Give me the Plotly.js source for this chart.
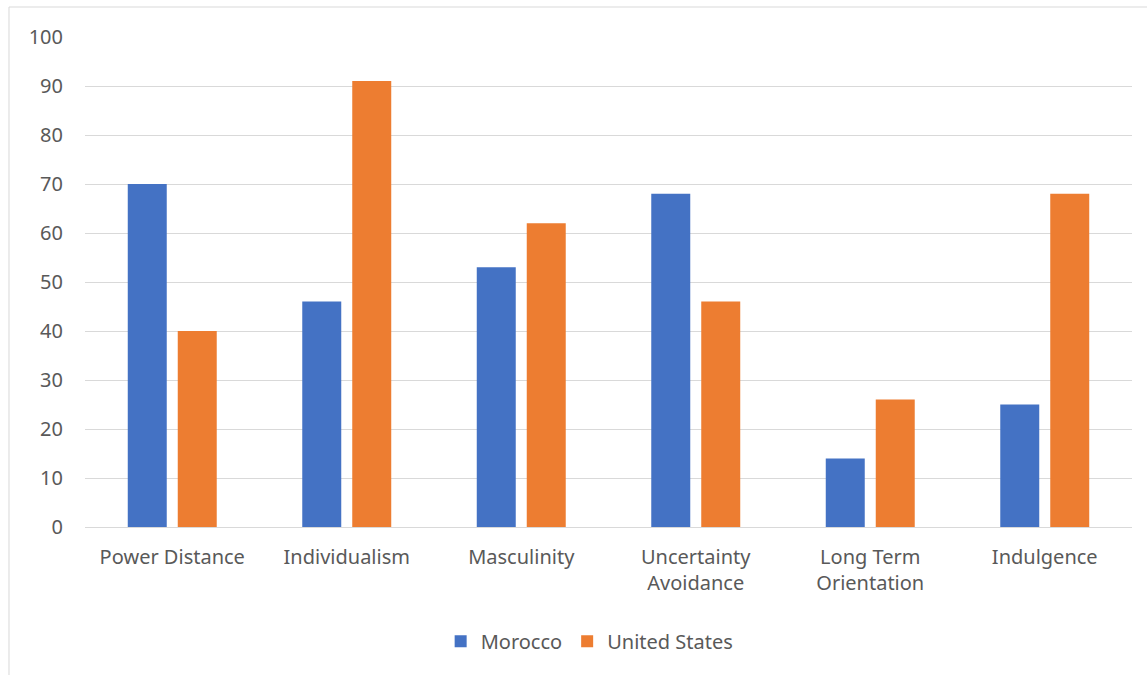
<!DOCTYPE html>
<html>
<head>
<meta charset="utf-8">
<script src="https://cdn.plot.ly/plotly-3.0.1.min.js"></script>
<style>
html,body{margin:0;padding:0;background:#fff;}
#chart{width:1147px;height:675px;}
</style>
</head>
<body>
<div id="chart"></div>
<script>
var categories = ["Power Distance", "Individualism", "Masculinity", "Uncertainty<br>Avoidance", "Long Term<br>Orientation", "Indulgence"];
var morocco = [70, 46, 53, 68, 14, 25];
var unitedStates = [40, 91, 62, 46, 26, 68];
var yTicks = [0, 10, 20, 30, 40, 50, 60, 70, 80, 90, 100];

var font = {family: "Noto Sans, Liberation Sans, sans-serif", size: 20, color: "#595959"};

var traces = [
  {type: "bar", name: "Morocco", x: categories, y: morocco, marker: {color: "#4472C4"}, hoverinfo: "x+y"},
  {type: "bar", name: "United States", x: categories, y: unitedStates, marker: {color: "#ED7D31"}, hoverinfo: "x+y"}
];

var layout = {
  width: 1147, height: 675,
  margin: {l: 85, r: 15, t: 37, b: 148},
  paper_bgcolor: "#fff", plot_bgcolor: "#fff",
  font: font,
  barmode: "group",
  bargap: 0.427,
  bargroupgap: 0.22,
  showlegend: true,
  legend: {orientation: "h", x: 0.482, xanchor: "center", y: -0.233, yanchor: "middle", font: font, itemclick: false, itemwidth: 30},
  xaxis: {type: "category", showgrid: false, showline: false, zeroline: false, ticks: "", ticklabelstandoff: 16, tickfont: font},
  yaxis: {range: [0, 100], tickvals: yTicks, ticktext: yTicks.map(String), showgrid: true, gridcolor: "#d9d9d9", gridwidth: 1,
          zeroline: true, zerolinecolor: "#d9d9d9", zerolinewidth: 1, showline: false, ticks: "", ticklabelstandoff: 21, tickfont: font, fixedrange: true},
  shapes: [
    {type: "rect", xref: "paper", yref: "paper", x0: -0.0726, x1: 1.3, y0: -0.6, y1: 1.0612, line: {color: "#d9d9d9", width: 1}, fillcolor: "rgba(0,0,0,0)", layer: "below"}
  ]
};

Plotly.newPlot("chart", traces, layout, {displayModeBar: false, staticPlot: false});
</script>
</body>
</html>
